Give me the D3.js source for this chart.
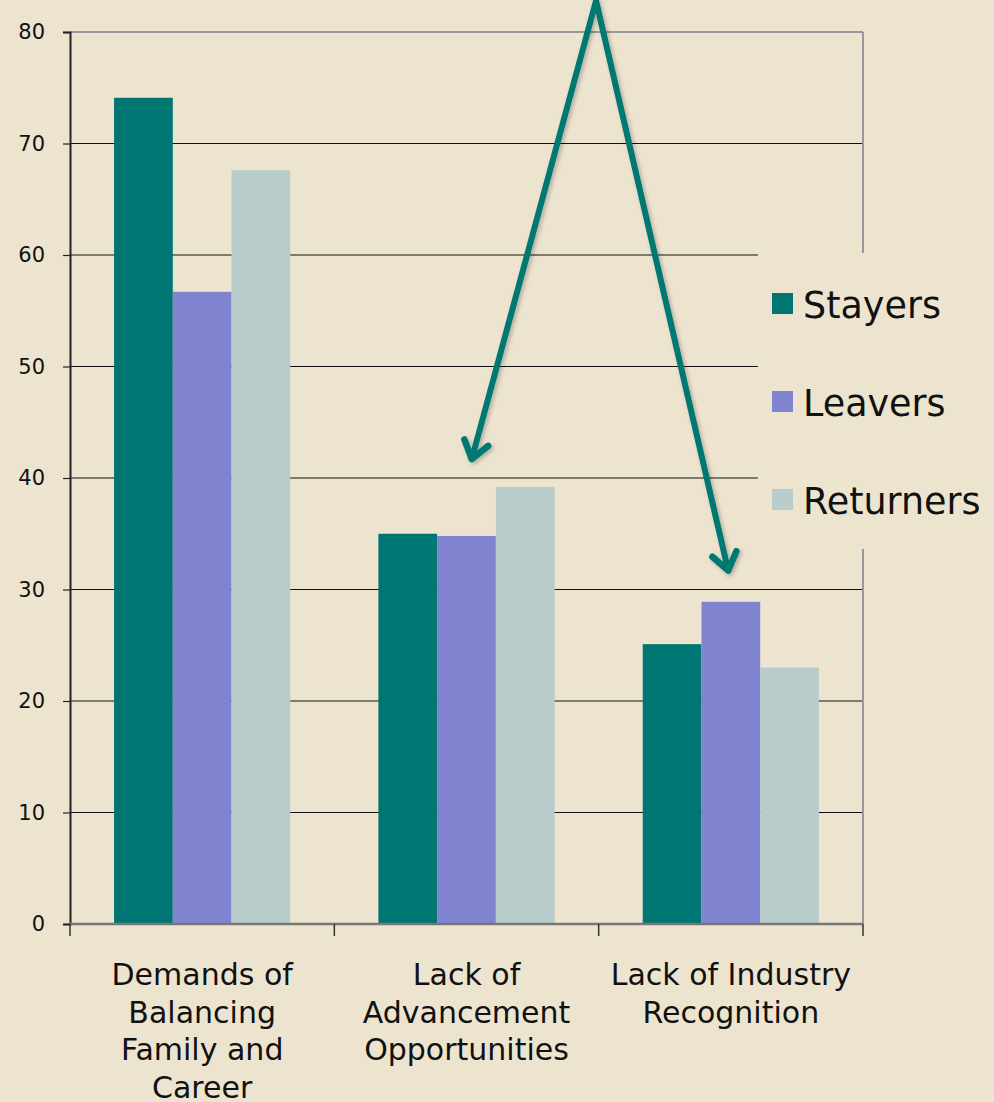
<!DOCTYPE html>
<html>
<head>
<meta charset="utf-8">
<script src="https://cdn.jsdelivr.net/npm/d3@7"></script>
<style>
  body { margin: 0; background: #ede4d0; }
  svg { display: block; font-family: "DejaVu Sans", Verdana, sans-serif; }
</style>
</head>
<body>
<svg width="994" height="1102"></svg>
<script>
// data
const categories = [
  ["Demands of", "Balancing", "Family and", "Career"],
  ["Lack of", "Advancement", "Opportunities"],
  ["Lack of Industry", "Recognition"]
];
const seriesNames = ["Stayers", "Leavers", "Returners"];
const stayers = [74.1, 35.0, 25.1];
const leavers = [56.7, 34.8, 28.9];
const returners = [67.6, 39.2, 23.0];
const yTicks = [0, 10, 20, 30, 40, 50, 60, 70, 80];
const colors = ["#007672", "#8084d0", "#b8cccb"];

// arrows: apex and the two tips, in data units (position along the category axis in bands, value)
const arrowApex = [1.99, 82.8];
const arrowTips = [[1.52, 41.7], [2.49, 31.7]];

const plotLeft = 70, plotRight = 863, plotTop = 32, plotBottom = 924;

const svg = d3.select("svg");

const x = d3.scaleBand()
  .domain(d3.range(categories.length))
  .range([plotLeft, plotRight]);
const y = d3.scaleLinear().domain([0, 80]).range([plotBottom, plotTop]);
const xs = d3.scaleBand()
  .domain(seriesNames)
  .range([0, x.bandwidth()])
  .paddingInner(0)
  .paddingOuter(0.75);
// continuous position along the category axis (in bands)
const xPos = p => plotLeft + p * x.step();

// horizontal gridlines
svg.append("g")
  .selectAll("line")
  .data(yTicks.filter(d => d > 0 && d < 80))
  .enter().append("line")
  .attr("x1", plotLeft).attr("x2", plotRight)
  .attr("y1", d => y(d)).attr("y2", d => y(d))
  .attr("stroke", "#111").attr("stroke-width", 1.2);

// plot frame top and right
svg.append("line")
  .attr("x1", plotLeft).attr("x2", plotRight)
  .attr("y1", y(80)).attr("y2", y(80))
  .attr("stroke", "#999").attr("stroke-width", 2);
svg.append("line")
  .attr("x1", plotRight).attr("x2", plotRight)
  .attr("y1", y(80)).attr("y2", y(0))
  .attr("stroke", "#999").attr("stroke-width", 2);

// bars
const series = [stayers, leavers, returners];
series.forEach((vals, si) => {
  svg.append("g")
    .selectAll("rect")
    .data(vals)
    .enter().append("rect")
    .attr("x", (d, i) => x(i) + xs(seriesNames[si]))
    .attr("width", xs.bandwidth())
    .attr("y", d => y(d))
    .attr("height", d => y(0) - y(d))
    .attr("fill", colors[si]);
});

// y axis
const yAxis = svg.append("g")
  .attr("transform", `translate(${plotLeft},0)`)
  .call(d3.axisLeft(y).tickValues(yTicks).tickSize(7).tickPadding(18));
yAxis.select(".domain").attr("stroke", "#222").attr("stroke-width", 2);
yAxis.selectAll(".tick line").attr("stroke", "#222").attr("stroke-width", 1.2);
yAxis.selectAll("text")
  .attr("font-size", 21).attr("fill", "#111")
  .attr("font-family", "DejaVu Sans");

// x axis line with ticks at band edges
const xAxis = svg.append("g");
xAxis.append("line")
  .attr("x1", plotLeft).attr("x2", plotRight)
  .attr("y1", y(0)).attr("y2", y(0))
  .attr("stroke", "#777").attr("stroke-width", 2.5);
xAxis.selectAll(".xt")
  .data(d3.range(categories.length + 1))
  .enter().append("line")
  .attr("class", "xt")
  .attr("x1", i => xPos(i))
  .attr("x2", i => xPos(i))
  .attr("y1", y(0)).attr("y2", y(0) + 12)
  .attr("stroke", "#333").attr("stroke-width", 1.5);

// category labels
const labels = svg.append("g")
  .selectAll("text")
  .data(categories)
  .enter().append("text")
  .attr("text-anchor", "middle")
  .attr("font-size", 30)
  .attr("fill", "#111")
  .attr("transform", (d, i) => `translate(${x(i) + x.bandwidth() / 2},${y(0)})`);
labels.selectAll("tspan")
  .data(d => d)
  .enter().append("tspan")
  .attr("x", 0)
  .attr("y", (d, j) => 61 + j * 37.5)
  .text(d => d);

// legend
const legend = svg.append("g");
legend.append("rect")
  .attr("x", 758).attr("y", 253)
  .attr("width", 236).attr("height", 296)
  .attr("fill", "#ede4d0");
const lg = legend.selectAll(".item")
  .data(seriesNames)
  .enter().append("g")
  .attr("class", "item")
  .attr("transform", (d, i) => `translate(772,${293 + i * 98})`);
lg.append("rect")
  .attr("width", 21).attr("height", 21)
  .attr("fill", (d, i) => colors[i]);
lg.append("text")
  .attr("x", 31).attr("y", 25)
  .attr("font-size", 36.5)
  .attr("fill", "#111")
  .text(d => d);

// arrows
const defs = svg.append("defs");
defs.append("filter").attr("id", "sh")
  .append("feDropShadow")
  .attr("dx", 2).attr("dy", 2).attr("stdDeviation", 2)
  .attr("flood-color", "#000").attr("flood-opacity", 0.25);

const apexX = xPos(arrowApex[0]);
const apexY = y(arrowApex[1]);
const arrows = svg.append("g").attr("filter", "url(#sh)");
arrowTips.forEach(t => {
  const tx = xPos(t[0]);
  const ty = y(t[1]);
  arrows.append("line")
    .attr("x1", apexX).attr("y1", apexY)
    .attr("x2", tx).attr("y2", ty)
    .attr("stroke", "#007872").attr("stroke-width", 6)
    .attr("stroke-linecap", "round");
  const ang = Math.atan2(apexY - ty, apexX - tx);
  const len = 21, spread = Math.PI / 5;
  const p1 = [tx + len * Math.cos(ang + spread), ty + len * Math.sin(ang + spread)];
  const p2 = [tx + len * Math.cos(ang - spread), ty + len * Math.sin(ang - spread)];
  arrows.append("path")
    .attr("d", d3.line()([p1, [tx, ty], p2]))
    .attr("fill", "none")
    .attr("stroke", "#007872").attr("stroke-width", 6.5)
    .attr("stroke-linecap", "round").attr("stroke-linejoin", "round");
});
</script>
</body>
</html>
